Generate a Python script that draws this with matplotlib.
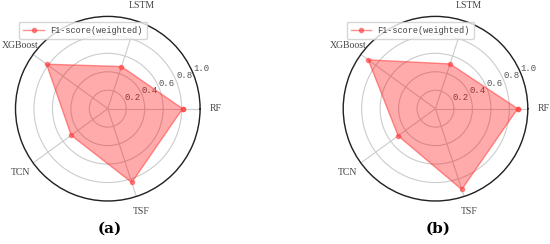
import numpy as np
import matplotlib
matplotlib.use("Agg")
import matplotlib.pyplot as plt

categories = ["RF", "LSTM", "XGBoost", "TCN", "TSF"]
values_a = [0.81, 0.48, 0.82, 0.49, 0.84]
values_b = [0.89, 0.51, 0.90, 0.50, 0.92]
rticks = [0.2, 0.4, 0.6, 0.8, 1.0]
series_label = "F1-score(weighted)"
panel_labels = ["(a)", "(b)"]

fig = plt.figure(figsize=(5.5, 2.44), dpi=100)
fig.patch.set_facecolor("white")

W, H = 550, 244
R = 92.3
centers = [(107.8, 108.7), (435.5, 108.7)]
legend_pos = [(19, 21.5), (346.5, 21.5)]
caption_pos = [(110, 229), (438, 229)]

angles = np.linspace(0, 2 * np.pi, len(categories), endpoint=False)

for vals, (cx, cy), (lx, ly), (tx, ty), lab in zip(
        [values_a, values_b], centers, legend_pos, caption_pos, panel_labels):
    ax = fig.add_axes([(cx - R) / W, (H - cy - R) / H, 2 * R / W, 2 * R / H],
                      projection="polar")
    a = np.concatenate([angles, angles[:1]])
    v = np.concatenate([vals, vals[:1]])
    ax.fill(a, v, color="#ff0000", alpha=0.33, linewidth=0, zorder=3)
    ax.plot(a, v, color="#ff4444", alpha=0.6, linewidth=1.0, marker="o",
            markersize=3, label=series_label, zorder=4)
    ax.set_ylim(0, 1.0)
    ax.set_yticks(rticks)
    ax.set_yticklabels([f"{t:.1f}" for t in rticks], fontsize=6.5,
                       family="Liberation Mono", color="#555555")
    ax.set_rlabel_position(22.5)
    ax.set_xticks(angles)
    ax.set_xticklabels(categories, fontsize=7, family="Liberation Serif",
                       color="#444444")
    ax.tick_params(axis="x", pad=1)
    ax.grid(color="#cccccc", linewidth=0.8)
    ax.spines["polar"].set_color("#222222")
    ax.spines["polar"].set_linewidth(1.0)
    ax.legend(loc="upper left", bbox_to_anchor=(lx / W, 1 - ly / H),
              bbox_transform=fig.transFigure,
              prop={"family": "Liberation Mono", "size": 6.2},
              labelcolor="#444444",
              frameon=True, fancybox=True, edgecolor="#cccccc", handlelength=2.4,
              handletextpad=0.7, borderpad=0.5, borderaxespad=0)
    fig.text(tx / W, 1 - ty / H, lab, ha="center", va="center",
             fontsize=11, fontweight="bold", family="DejaVu Serif")

fig.savefig("out.png", dpi=100, facecolor="white")
